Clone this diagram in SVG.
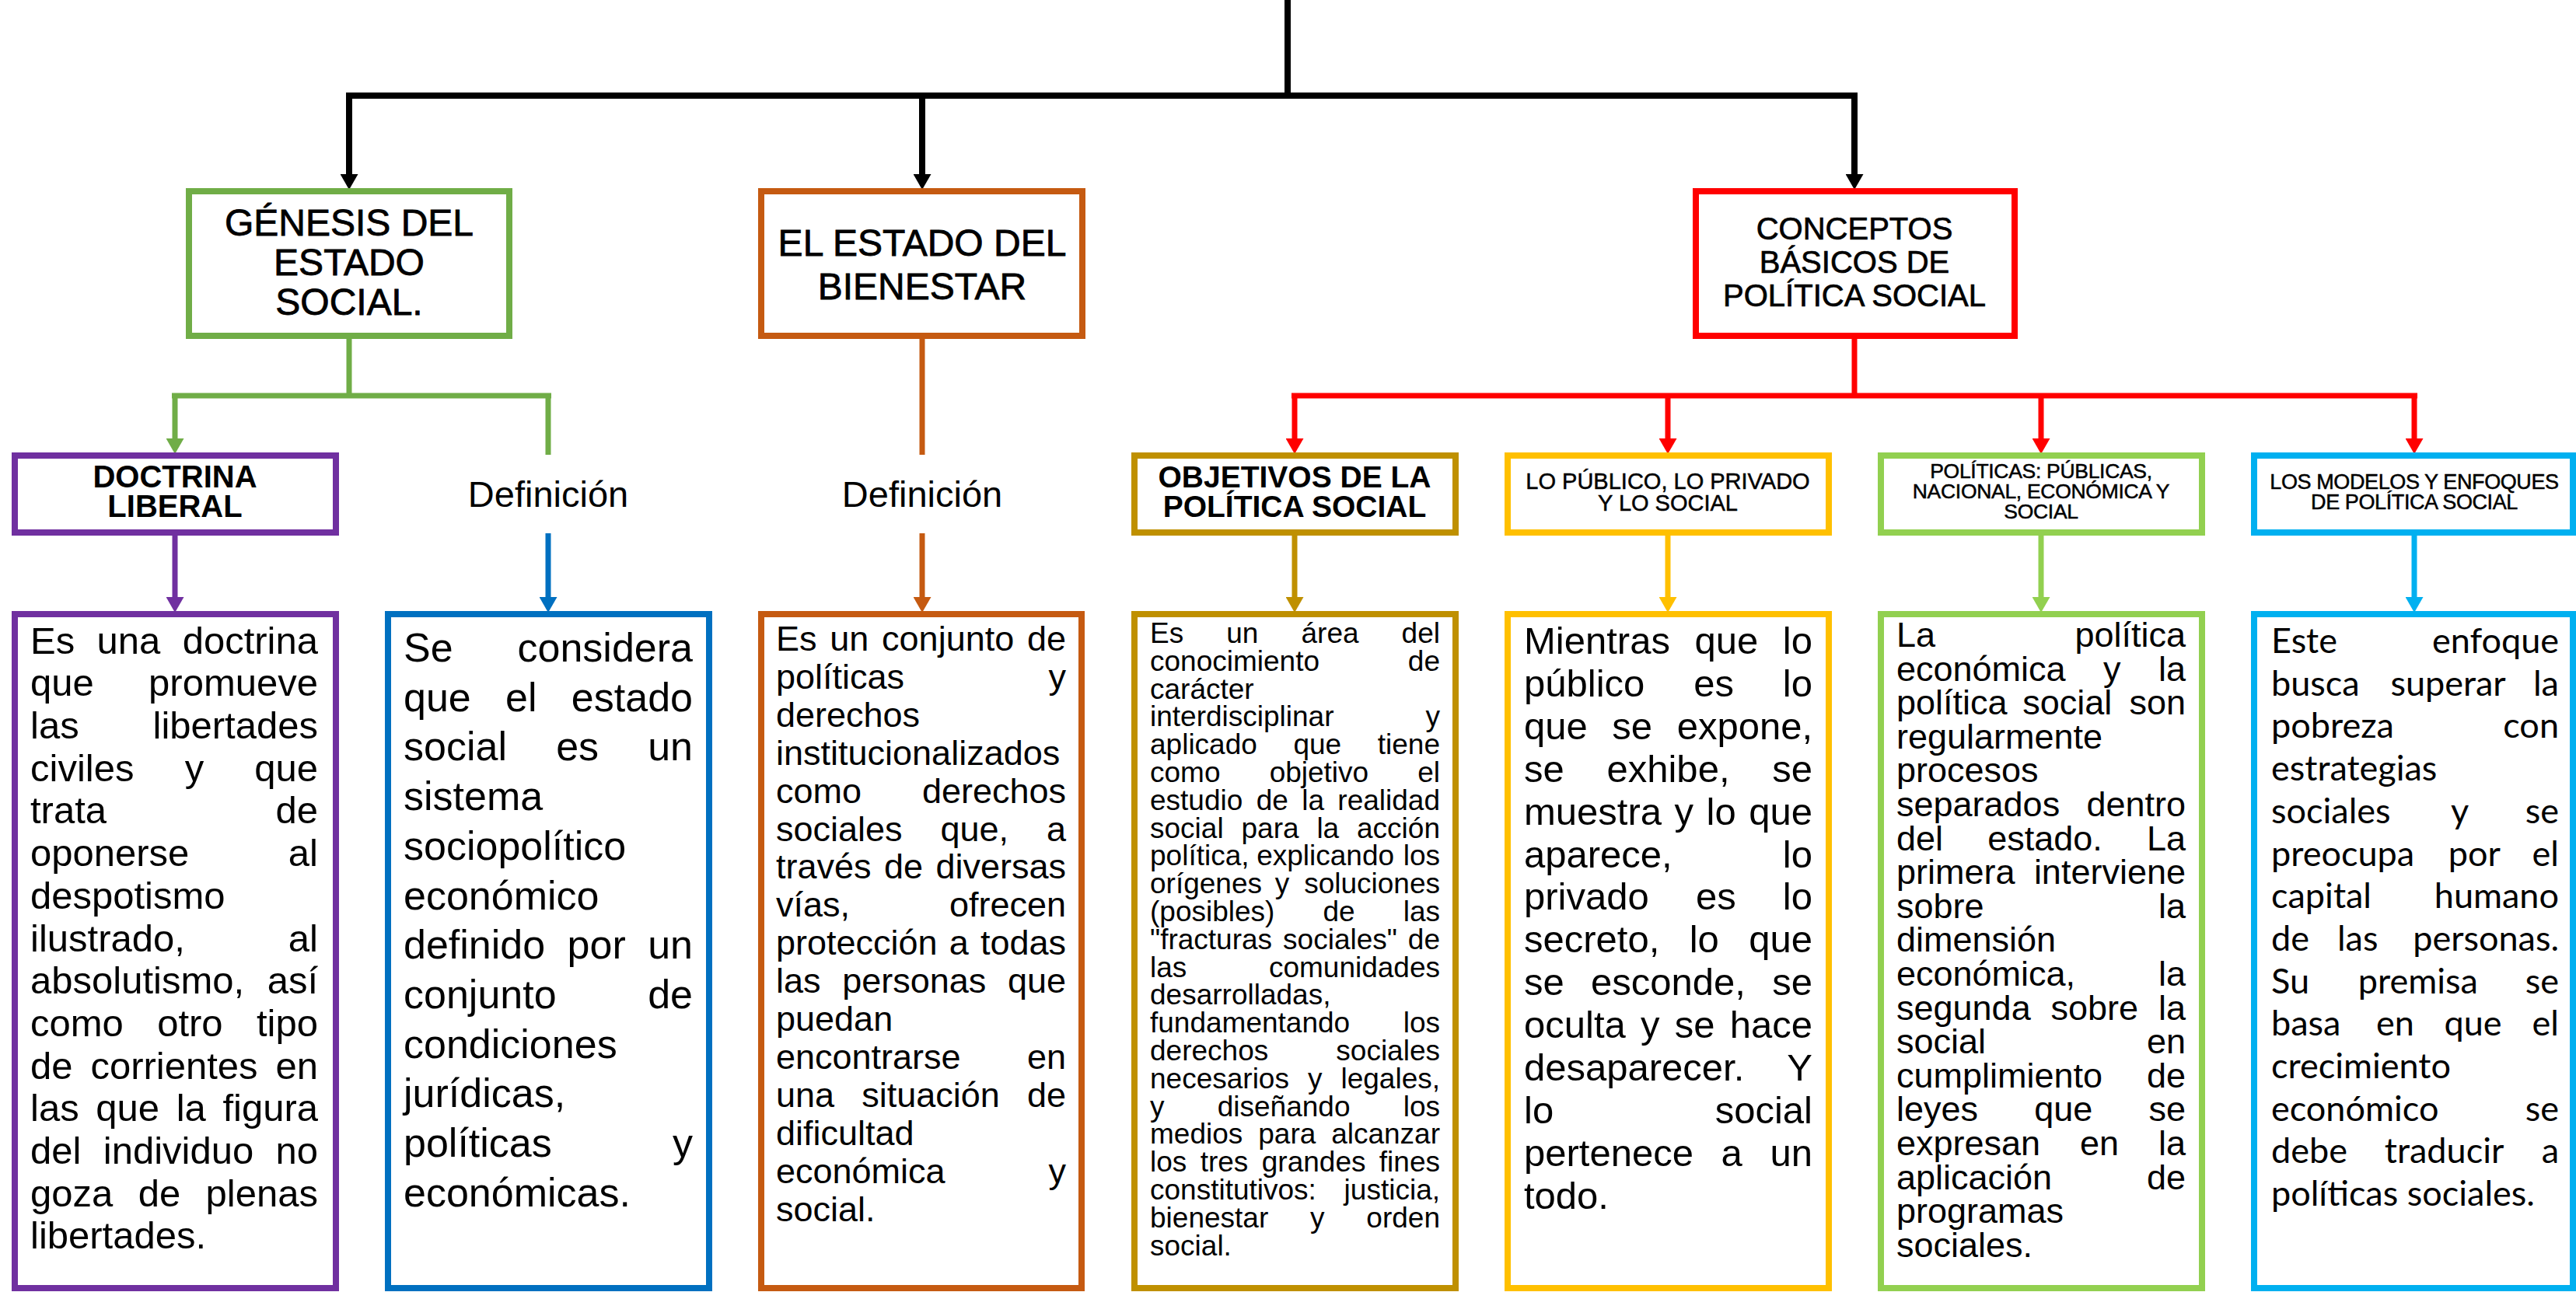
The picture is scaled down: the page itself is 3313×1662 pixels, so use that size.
<svg xmlns="http://www.w3.org/2000/svg" width="3313" height="1662" viewBox="0 0 3313 1662">
<style>
  text{font-family:"Liberation Sans",Arial,sans-serif;fill:#000}
  .m{text-anchor:middle}
  .e{text-anchor:end}
  .box{fill:#fff;stroke-width:8}
  .conn{fill:none;stroke-width:7}
  .blk{fill:none;stroke:#000;stroke-width:8}
  .h48{font-size:48px;stroke:#000;stroke-width:0.8}
  .h40{font-size:40px;stroke:#000;stroke-width:0.7}
  .hb40{font-size:40px;font-weight:bold}
  .hb39{font-size:39px;font-weight:bold}
  .h29{font-size:29px;stroke:#000;stroke-width:0.5}
  .h26{font-size:26.5px;stroke:#000;stroke-width:0.5;letter-spacing:-0.3px}
  .h27{font-size:27px;stroke:#000;stroke-width:0.5;letter-spacing:-0.4px}
  .def{font-size:47px}
  .b49{font-size:49px}
  .b52{font-size:52px}
  .b45{font-size:45px}
  .b37{font-size:37px}
  .lato{font-family:Lato,"Liberation Sans",sans-serif;font-size:45px}
</style>
<defs>
  <marker id="a-black" markerUnits="userSpaceOnUse" markerWidth="20" markerHeight="23" refX="0" refY="11.5" orient="auto"><path d="M0,0 L20,11.5 L0,23 z" fill="#000"/></marker>
  <marker id="a-red" markerUnits="userSpaceOnUse" markerWidth="20" markerHeight="23" refX="0" refY="11.5" orient="auto"><path d="M0,0 L20,11.5 L0,23 z" fill="#FF0000"/></marker>
  <marker id="a-green" markerUnits="userSpaceOnUse" markerWidth="20" markerHeight="23" refX="0" refY="11.5" orient="auto"><path d="M0,0 L20,11.5 L0,23 z" fill="#70AD47"/></marker>
  <marker id="a-purple" markerUnits="userSpaceOnUse" markerWidth="20" markerHeight="23" refX="0" refY="11.5" orient="auto"><path d="M0,0 L20,11.5 L0,23 z" fill="#7030A0"/></marker>
  <marker id="a-blue" markerUnits="userSpaceOnUse" markerWidth="20" markerHeight="23" refX="0" refY="11.5" orient="auto"><path d="M0,0 L20,11.5 L0,23 z" fill="#0070C0"/></marker>
  <marker id="a-orange" markerUnits="userSpaceOnUse" markerWidth="20" markerHeight="23" refX="0" refY="11.5" orient="auto"><path d="M0,0 L20,11.5 L0,23 z" fill="#C55A11"/></marker>
  <marker id="a-gold" markerUnits="userSpaceOnUse" markerWidth="20" markerHeight="23" refX="0" refY="11.5" orient="auto"><path d="M0,0 L20,11.5 L0,23 z" fill="#BF9000"/></marker>
  <marker id="a-yellow" markerUnits="userSpaceOnUse" markerWidth="20" markerHeight="23" refX="0" refY="11.5" orient="auto"><path d="M0,0 L20,11.5 L0,23 z" fill="#FFC000"/></marker>
  <marker id="a-lgreen" markerUnits="userSpaceOnUse" markerWidth="20" markerHeight="23" refX="0" refY="11.5" orient="auto"><path d="M0,0 L20,11.5 L0,23 z" fill="#92D050"/></marker>
  <marker id="a-lblue" markerUnits="userSpaceOnUse" markerWidth="20" markerHeight="23" refX="0" refY="11.5" orient="auto"><path d="M0,0 L20,11.5 L0,23 z" fill="#00B0F0"/></marker>
</defs>
<rect x="0" y="0" width="3313" height="1662" fill="#fff"/>

<g id="connectors">
  <path class="blk" d="M1656,0 V123 M445,123 H2389"/>
  <line class="blk" x1="449" y1="123" x2="449" y2="224" marker-end="url(#a-black)"/>
  <line class="blk" x1="1186" y1="123" x2="1186" y2="224" marker-end="url(#a-black)"/>
  <line class="blk" x1="2385" y1="123" x2="2385" y2="224" marker-end="url(#a-black)"/>

  <path class="conn" stroke="#70AD47" d="M449,436 V509 M221,509 H709 M705,509 V585"/>
  <line class="conn" stroke="#70AD47" x1="225" y1="509" x2="225" y2="564" marker-end="url(#a-green)"/>

  <line class="conn" stroke="#C55A11" x1="1186" y1="436" x2="1186" y2="585"/>
  <line class="conn" stroke="#C55A11" x1="1186" y1="686" x2="1186" y2="768" marker-end="url(#a-orange)"/>

  <line class="conn" stroke="#7030A0" x1="225" y1="689" x2="225" y2="768" marker-end="url(#a-purple)"/>
  <line class="conn" stroke="#0070C0" x1="705" y1="686" x2="705" y2="768" marker-end="url(#a-blue)"/>

  <path class="conn" stroke="#FF0000" d="M2385,436 V509 M1661,509 H3109"/>
  <line class="conn" stroke="#FF0000" x1="1665" y1="509" x2="1665" y2="564" marker-end="url(#a-red)"/>
  <line class="conn" stroke="#FF0000" x1="2145" y1="509" x2="2145" y2="564" marker-end="url(#a-red)"/>
  <line class="conn" stroke="#FF0000" x1="2625" y1="509" x2="2625" y2="564" marker-end="url(#a-red)"/>
  <line class="conn" stroke="#FF0000" x1="3105" y1="509" x2="3105" y2="564" marker-end="url(#a-red)"/>

  <line class="conn" stroke="#BF9000" x1="1665" y1="689" x2="1665" y2="768" marker-end="url(#a-gold)"/>
  <line class="conn" stroke="#FFC000" x1="2145" y1="689" x2="2145" y2="768" marker-end="url(#a-yellow)"/>
  <line class="conn" stroke="#92D050" x1="2625" y1="689" x2="2625" y2="768" marker-end="url(#a-lgreen)"/>
  <line class="conn" stroke="#00B0F0" x1="3105" y1="689" x2="3105" y2="768" marker-end="url(#a-lblue)"/>
</g>

<g id="node-genesis">
  <rect class="box" stroke="#70AD47" x="243" y="246" width="412" height="186"/>
  <text class="h48 m" x="449" y="303">GÉNESIS DEL</text>
  <text class="h48 m" x="449" y="354">ESTADO</text>
  <text class="h48 m" x="449" y="405">SOCIAL.</text>
</g>

<g id="node-bienestar">
  <rect class="box" stroke="#C55A11" x="979" y="246" width="413" height="186"/>
  <text class="h48 m" x="1186" y="329">EL ESTADO DEL</text>
  <text class="h48 m" x="1186" y="385">BIENESTAR</text>
</g>

<g id="node-conceptos">
  <rect class="box" stroke="#FF0000" x="2181" y="246" width="410" height="186"/>
  <text class="h40 m" x="2385" y="308">CONCEPTOS</text>
  <text class="h40 m" x="2385" y="351">BÁSICOS DE</text>
  <text class="h40 m" x="2385" y="394">POLÍTICA SOCIAL</text>
</g>

<g id="node-doctrina">
  <rect class="box" stroke="#7030A0" x="19" y="586" width="413" height="99"/>
  <text class="hb40 m" x="225" y="627">DOCTRINA</text>
  <text class="hb40 m" x="225" y="665">LIBERAL</text>
</g>

<g id="label-definicion-1">
  <text class="def m" x="705" y="652">Definición</text>
</g>

<g id="label-definicion-2">
  <text class="def m" x="1186" y="652">Definición</text>
</g>

<g id="node-objetivos">
  <rect class="box" stroke="#BF9000" x="1459" y="586" width="413" height="99"/>
  <text class="hb39 m" x="1665" y="627">OBJETIVOS DE LA</text>
  <text class="hb39 m" x="1665" y="665">POLÍTICA SOCIAL</text>
</g>

<g id="node-publico">
  <rect class="box" stroke="#FFC000" x="1939" y="586" width="413" height="99"/>
  <text class="h29 m" x="2145" y="629">LO PÚBLICO, LO PRIVADO</text>
  <text class="h29 m" x="2145" y="657">Y LO SOCIAL</text>
</g>

<g id="node-politicas">
  <rect class="box" stroke="#92D050" x="2419" y="586" width="413" height="99"/>
  <text class="h26 m" x="2625" y="615">POLÍTICAS: PÚBLICAS,</text>
  <text class="h26 m" x="2625" y="641">NACIONAL, ECONÓMICA Y</text>
  <text class="h26 m" x="2625" y="667">SOCIAL</text>
</g>

<g id="node-modelos">
  <rect class="box" stroke="#00B0F0" x="2899" y="586" width="410" height="99"/>
  <text class="h27 m" x="3105" y="629">LOS MODELOS Y ENFOQUES</text>
  <text class="h27 m" x="3105" y="655">DE POLÍTICA SOCIAL</text>
</g>

<g id="node-doctrina-texto" class="b49">
  <rect class="box" stroke="#7030A0" x="19" y="790" width="413" height="867"/>
  <text class="b49" x="39" y="840.6">Es</text><text class="b49 m" x="165.5" y="840.6">una</text><text class="b49 e" x="409" y="840.6">doctrina</text>
  <text class="b49" x="39" y="895.3">que</text><text class="b49 e" x="409" y="895.3">promueve</text>
  <text class="b49" x="39" y="950">las</text><text class="b49 e" x="409" y="950">libertades</text>
  <text class="b49" x="39" y="1004.7">civiles</text><text class="b49 m" x="249.9" y="1004.7">y</text><text class="b49 e" x="409" y="1004.7">que</text>
  <text class="b49" x="39" y="1059.4">trata</text><text class="b49 e" x="409" y="1059.4">de</text>
  <text class="b49" x="39" y="1114.1">oponerse</text><text class="b49 e" x="409" y="1114.1">al</text>
  <text class="b49" x="39" y="1168.8">despotismo</text>
  <text class="b49" x="39" y="1223.5">ilustrado,</text><text class="b49 e" x="409" y="1223.5">al</text>
  <text class="b49" x="39" y="1278.2">absolutismo,</text><text class="b49 e" x="409" y="1278.2">así</text>
  <text class="b49" x="39" y="1332.9">como</text><text class="b49 m" x="244.4" y="1332.9">otro</text><text class="b49 e" x="409" y="1332.9">tipo</text>
  <text class="b49" x="39" y="1387.6">de</text><text class="b49 m" x="224" y="1387.6">corrientes</text><text class="b49 e" x="409" y="1387.6">en</text>
  <text class="b49" x="39" y="1442.3">las</text><text class="b49" x="123.3" y="1442.3">que</text><text class="b49" x="226.7" y="1442.3">la</text><text class="b49 e" x="409" y="1442.3">figura</text>
  <text class="b49" x="39" y="1497">del</text><text class="b49 m" x="229.5" y="1497">individuo</text><text class="b49 e" x="409" y="1497">no</text>
  <text class="b49" x="39" y="1551.7">goza</text><text class="b49 m" x="204.9" y="1551.7">de</text><text class="b49 e" x="409" y="1551.7">plenas</text>
  <text class="b49" x="39" y="1606.4">libertades.</text>
</g>

<g id="node-definicion-1-texto">
  <rect class="box" stroke="#0070C0" x="499" y="790" width="413" height="867"/>
  <text class="b52" x="519" y="851">Se</text><text class="b52 e" x="891" y="851">considera</text>
  <text class="b52" x="519" y="914.7">que</text><text class="b52 m" x="670.3" y="914.7">el</text><text class="b52 e" x="891" y="914.7">estado</text>
  <text class="b52" x="519" y="978.4">social</text><text class="b52 m" x="742.6" y="978.4">es</text><text class="b52 e" x="891" y="978.4">un</text>
  <text class="b52" x="519" y="1042.1">sistema</text>
  <text class="b52" x="519" y="1105.8">sociopolítico</text>
  <text class="b52" x="519" y="1169.5">económico</text>
  <text class="b52" x="519" y="1233.2">definido</text><text class="b52 m" x="767.2" y="1233.2">por</text><text class="b52 e" x="891" y="1233.2">un</text>
  <text class="b52" x="519" y="1296.9">conjunto</text><text class="b52 e" x="891" y="1296.9">de</text>
  <text class="b52" x="519" y="1360.6">condiciones</text>
  <text class="b52" x="519" y="1424.3">jurídicas,</text>
  <text class="b52" x="519" y="1488">políticas</text><text class="b52 e" x="891" y="1488">y</text>
  <text class="b52" x="519" y="1551.7">económicas.</text>
</g>

<g id="node-definicion-2-texto">
  <rect class="box" stroke="#C55A11" x="979" y="790" width="412" height="867"/>
  <text class="b45" x="998" y="837">Es</text><text class="b45" x="1067.3" y="837">un</text><text class="b45" x="1134.1" y="837">conjunto</text><text class="b45 e" x="1371" y="837">de</text>
  <text class="b45" x="998" y="885.9">políticas</text><text class="b45 e" x="1371" y="885.9">y</text>
  <text class="b45" x="998" y="934.8">derechos</text>
  <text class="b45" x="998" y="983.7">institucionalizados</text>
  <text class="b45" x="998" y="1032.6">como</text><text class="b45 e" x="1371" y="1032.6">derechos</text>
  <text class="b45" x="998" y="1081.5">sociales</text><text class="b45 m" x="1253.3" y="1081.5">que,</text><text class="b45 e" x="1371" y="1081.5">a</text>
  <text class="b45" x="998" y="1130.4">través</text><text class="b45 m" x="1162" y="1130.4">de</text><text class="b45 e" x="1371" y="1130.4">diversas</text>
  <text class="b45" x="998" y="1179.3">vías,</text><text class="b45 e" x="1371" y="1179.3">ofrecen</text>
  <text class="b45" x="998" y="1228.2">protección</text><text class="b45 m" x="1233.3" y="1228.2">a</text><text class="b45 e" x="1371" y="1228.2">todas</text>
  <text class="b45" x="998" y="1277.1">las</text><text class="b45 m" x="1175.7" y="1277.1">personas</text><text class="b45 e" x="1371" y="1277.1">que</text>
  <text class="b45" x="998" y="1326">puedan</text>
  <text class="b45" x="998" y="1374.9">encontrarse</text><text class="b45 e" x="1371" y="1374.9">en</text>
  <text class="b45" x="998" y="1423.8">una</text><text class="b45 m" x="1197" y="1423.8">situación</text><text class="b45 e" x="1371" y="1423.8">de</text>
  <text class="b45" x="998" y="1472.7">dificultad</text>
  <text class="b45" x="998" y="1521.6">económica</text><text class="b45 e" x="1371" y="1521.6">y</text>
  <text class="b45" x="998" y="1570.5">social.</text>
</g>

<g id="node-objetivos-texto">
  <rect class="box" stroke="#BF9000" x="1459" y="790" width="413" height="867"/>
  <text class="b37" x="1479" y="827">Es</text><text class="b37" x="1577.3" y="827">un</text><text class="b37" x="1673.5" y="827">área</text><text class="b37 e" x="1852" y="827">del</text>
  <text class="b37" x="1479" y="862.8">conocimiento</text><text class="b37 e" x="1852" y="862.8">de</text>
  <text class="b37" x="1479" y="898.6">carácter</text>
  <text class="b37" x="1479" y="934.4">interdisciplinar</text><text class="b37 e" x="1852" y="934.4">y</text>
  <text class="b37" x="1479" y="970.2">aplicado</text><text class="b37 m" x="1694.3" y="970.2">que</text><text class="b37 e" x="1852" y="970.2">tiene</text>
  <text class="b37" x="1479" y="1006">como</text><text class="b37 m" x="1696.4" y="1006">objetivo</text><text class="b37 e" x="1852" y="1006">el</text>
  <text class="b37" x="1479" y="1041.8">estudio</text><text class="b37" x="1615.7" y="1041.8">de</text><text class="b37" x="1674.2" y="1041.8">la</text><text class="b37 e" x="1852" y="1041.8">realidad</text>
  <text class="b37" x="1479" y="1077.6">social</text><text class="b37" x="1596.5" y="1077.6">para</text><text class="b37" x="1693.4" y="1077.6">la</text><text class="b37 e" x="1852" y="1077.6">acción</text>
  <text class="b37" x="1479" y="1113.4">política,</text><text class="b37 m" x="1704.6" y="1113.4">explicando</text><text class="b37 e" x="1852" y="1113.4">los</text>
  <text class="b37" x="1479" y="1149.2">orígenes</text><text class="b37 m" x="1649.1" y="1149.2">y</text><text class="b37 e" x="1852" y="1149.2">soluciones</text>
  <text class="b37" x="1479" y="1185">(posibles)</text><text class="b37 m" x="1722.1" y="1185">de</text><text class="b37 e" x="1852" y="1185">las</text>
  <text class="b37" x="1479" y="1220.8">"fracturas</text><text class="b37 m" x="1723.5" y="1220.8">sociales"</text><text class="b37 e" x="1852" y="1220.8">de</text>
  <text class="b37" x="1479" y="1256.6">las</text><text class="b37 e" x="1852" y="1256.6">comunidades</text>
  <text class="b37" x="1479" y="1292.4">desarrolladas,</text>
  <text class="b37" x="1479" y="1328.2">fundamentando</text><text class="b37 e" x="1852" y="1328.2">los</text>
  <text class="b37" x="1479" y="1364">derechos</text><text class="b37 e" x="1852" y="1364">sociales</text>
  <text class="b37" x="1479" y="1399.8">necesarios</text><text class="b37 m" x="1691.2" y="1399.8">y</text><text class="b37 e" x="1852" y="1399.8">legales,</text>
  <text class="b37" x="1479" y="1435.6">y</text><text class="b37 m" x="1651.1" y="1435.6">diseñando</text><text class="b37 e" x="1852" y="1435.6">los</text>
  <text class="b37" x="1479" y="1471.4">medios</text><text class="b37 m" x="1655.3" y="1471.4">para</text><text class="b37 e" x="1852" y="1471.4">alcanzar</text>
  <text class="b37" x="1479" y="1507.2">los</text><text class="b37" x="1543.7" y="1507.2">tres</text><text class="b37" x="1622.8" y="1507.2">grandes</text><text class="b37 e" x="1852" y="1507.2">fines</text>
  <text class="b37" x="1479" y="1543">constitutivos:</text><text class="b37 e" x="1852" y="1543">justicia,</text>
  <text class="b37" x="1479" y="1578.8">bienestar</text><text class="b37 m" x="1694.3" y="1578.8">y</text><text class="b37 e" x="1852" y="1578.8">orden</text>
  <text class="b37" x="1479" y="1614.6">social.</text>
</g>

<g id="node-publico-texto">
  <rect class="box" stroke="#FFC000" x="1939" y="790" width="413" height="867"/>
  <text class="b49" x="1960" y="841">Mientras</text><text class="b49 m" x="2220.4" y="841">que</text><text class="b49 e" x="2331" y="841">lo</text>
  <text class="b49" x="1960" y="895.9">público</text><text class="b49 m" x="2204.1" y="895.9">es</text><text class="b49 e" x="2331" y="895.9">lo</text>
  <text class="b49" x="1960" y="950.8">que</text><text class="b49 m" x="2099.2" y="950.8">se</text><text class="b49 e" x="2331" y="950.8">expone,</text>
  <text class="b49" x="1960" y="1005.7">se</text><text class="b49 m" x="2145.5" y="1005.7">exhibe,</text><text class="b49 e" x="2331" y="1005.7">se</text>
  <text class="b49" x="1960" y="1060.6">muestra</text><text class="b49" x="2153.6" y="1060.6">y</text><text class="b49" x="2194.6" y="1060.6">lo</text><text class="b49 e" x="2331" y="1060.6">que</text>
  <text class="b49" x="1960" y="1115.5">aparece,</text><text class="b49 e" x="2331" y="1115.5">lo</text>
  <text class="b49" x="1960" y="1170.4">privado</text><text class="b49 m" x="2206.8" y="1170.4">es</text><text class="b49 e" x="2331" y="1170.4">lo</text>
  <text class="b49" x="1960" y="1225.3">secreto,</text><text class="b49 m" x="2191.8" y="1225.3">lo</text><text class="b49 e" x="2331" y="1225.3">que</text>
  <text class="b49" x="1960" y="1280.2">se</text><text class="b49 m" x="2145.5" y="1280.2">esconde,</text><text class="b49 e" x="2331" y="1280.2">se</text>
  <text class="b49" x="1960" y="1335.1">oculta</text><text class="b49" x="2110" y="1335.1">y</text><text class="b49" x="2153.8" y="1335.1">se</text><text class="b49 e" x="2331" y="1335.1">hace</text>
  <text class="b49" x="1960" y="1390">desaparecer.</text><text class="b49 e" x="2331" y="1390">Y</text>
  <text class="b49" x="1960" y="1444.9">lo</text><text class="b49 e" x="2331" y="1444.9">social</text>
  <text class="b49" x="1960" y="1499.8">pertenece</text><text class="b49 m" x="2227.2" y="1499.8">a</text><text class="b49 e" x="2331" y="1499.8">un</text>
  <text class="b49" x="1960" y="1554.7">todo.</text>
</g>

<g id="node-politicas-texto">
  <rect class="box" stroke="#92D050" x="2419" y="790" width="413" height="867"/>
  <text class="b45" x="2439" y="832">La</text><text class="b45 e" x="2811" y="832">política</text>
  <text class="b45" x="2439" y="875.6">económica</text><text class="b45 m" x="2716.3" y="875.6">y</text><text class="b45 e" x="2811" y="875.6">la</text>
  <text class="b45" x="2439" y="919.2">política</text><text class="b45 m" x="2658.8" y="919.2">social</text><text class="b45 e" x="2811" y="919.2">son</text>
  <text class="b45" x="2439" y="962.8">regularmente</text>
  <text class="b45" x="2439" y="1006.4">procesos</text>
  <text class="b45" x="2439" y="1050">separados</text><text class="b45 e" x="2811" y="1050">dentro</text>
  <text class="b45" x="2439" y="1093.6">del</text><text class="b45 m" x="2630" y="1093.6">estado.</text><text class="b45 e" x="2811" y="1093.6">La</text>
  <text class="b45" x="2439" y="1137.2">primera</text><text class="b45 e" x="2811" y="1137.2">interviene</text>
  <text class="b45" x="2439" y="1180.8">sobre</text><text class="b45 e" x="2811" y="1180.8">la</text>
  <text class="b45" x="2439" y="1224.4">dimensión</text>
  <text class="b45" x="2439" y="1268">económica,</text><text class="b45 e" x="2811" y="1268">la</text>
  <text class="b45" x="2439" y="1311.6">segunda</text><text class="b45 m" x="2693.8" y="1311.6">sobre</text><text class="b45 e" x="2811" y="1311.6">la</text>
  <text class="b45" x="2439" y="1355.2">social</text><text class="b45 e" x="2811" y="1355.2">en</text>
  <text class="b45" x="2439" y="1398.8">cumplimiento</text><text class="b45 e" x="2811" y="1398.8">de</text>
  <text class="b45" x="2439" y="1442.4">leyes</text><text class="b45 m" x="2653.8" y="1442.4">que</text><text class="b45 e" x="2811" y="1442.4">se</text>
  <text class="b45" x="2439" y="1486">expresan</text><text class="b45 m" x="2700" y="1486">en</text><text class="b45 e" x="2811" y="1486">la</text>
  <text class="b45" x="2439" y="1529.6">aplicación</text><text class="b45 e" x="2811" y="1529.6">de</text>
  <text class="b45" x="2439" y="1573.2">programas</text>
  <text class="b45" x="2439" y="1616.8">sociales.</text>
</g>

<g id="node-modelos-texto">
  <rect class="box" stroke="#00B0F0" x="2899" y="790" width="410" height="867"/>
  <text class="lato" x="2921" y="840">Este</text><text class="lato e" x="3291" y="840">enfoque</text>
  <text class="lato" x="2921" y="894.7">busca</text><text class="lato m" x="3148.6" y="894.7">superar</text><text class="lato e" x="3291" y="894.7">la</text>
  <text class="lato" x="2921" y="949.4">pobreza</text><text class="lato e" x="3291" y="949.4">con</text>
  <text class="lato" x="2921" y="1004.1">estrategias</text>
  <text class="lato" x="2921" y="1058.8">sociales</text><text class="lato m" x="3163.5" y="1058.8">y</text><text class="lato e" x="3291" y="1058.8">se</text>
  <text class="lato" x="2921" y="1113.5">preocupa</text><text class="lato m" x="3182.3" y="1113.5">por</text><text class="lato e" x="3291" y="1113.5">el</text>
  <text class="lato" x="2921" y="1168.2">capital</text><text class="lato e" x="3291" y="1168.2">humano</text>
  <text class="lato" x="2921" y="1222.9">de</text><text class="lato m" x="3032.2" y="1222.9">las</text><text class="lato e" x="3291" y="1222.9">personas.</text>
  <text class="lato" x="2921" y="1277.6">Su</text><text class="lato m" x="3109.8" y="1277.6">premisa</text><text class="lato e" x="3291" y="1277.6">se</text>
  <text class="lato" x="2921" y="1332.3">basa</text><text class="lato" x="3056" y="1332.3">en</text><text class="lato" x="3143.5" y="1332.3">que</text><text class="lato e" x="3291" y="1332.3">el</text>
  <text class="lato" x="2921" y="1387">crecimiento</text>
  <text class="lato" x="2921" y="1441.7">económico</text><text class="lato e" x="3291" y="1441.7">se</text>
  <text class="lato" x="2921" y="1496.4">debe</text><text class="lato m" x="3143.6" y="1496.4">traducir</text><text class="lato e" x="3291" y="1496.4">a</text>
  <text class="lato" x="2921" y="1551.1">políticas sociales.</text>
</g>
</svg>
